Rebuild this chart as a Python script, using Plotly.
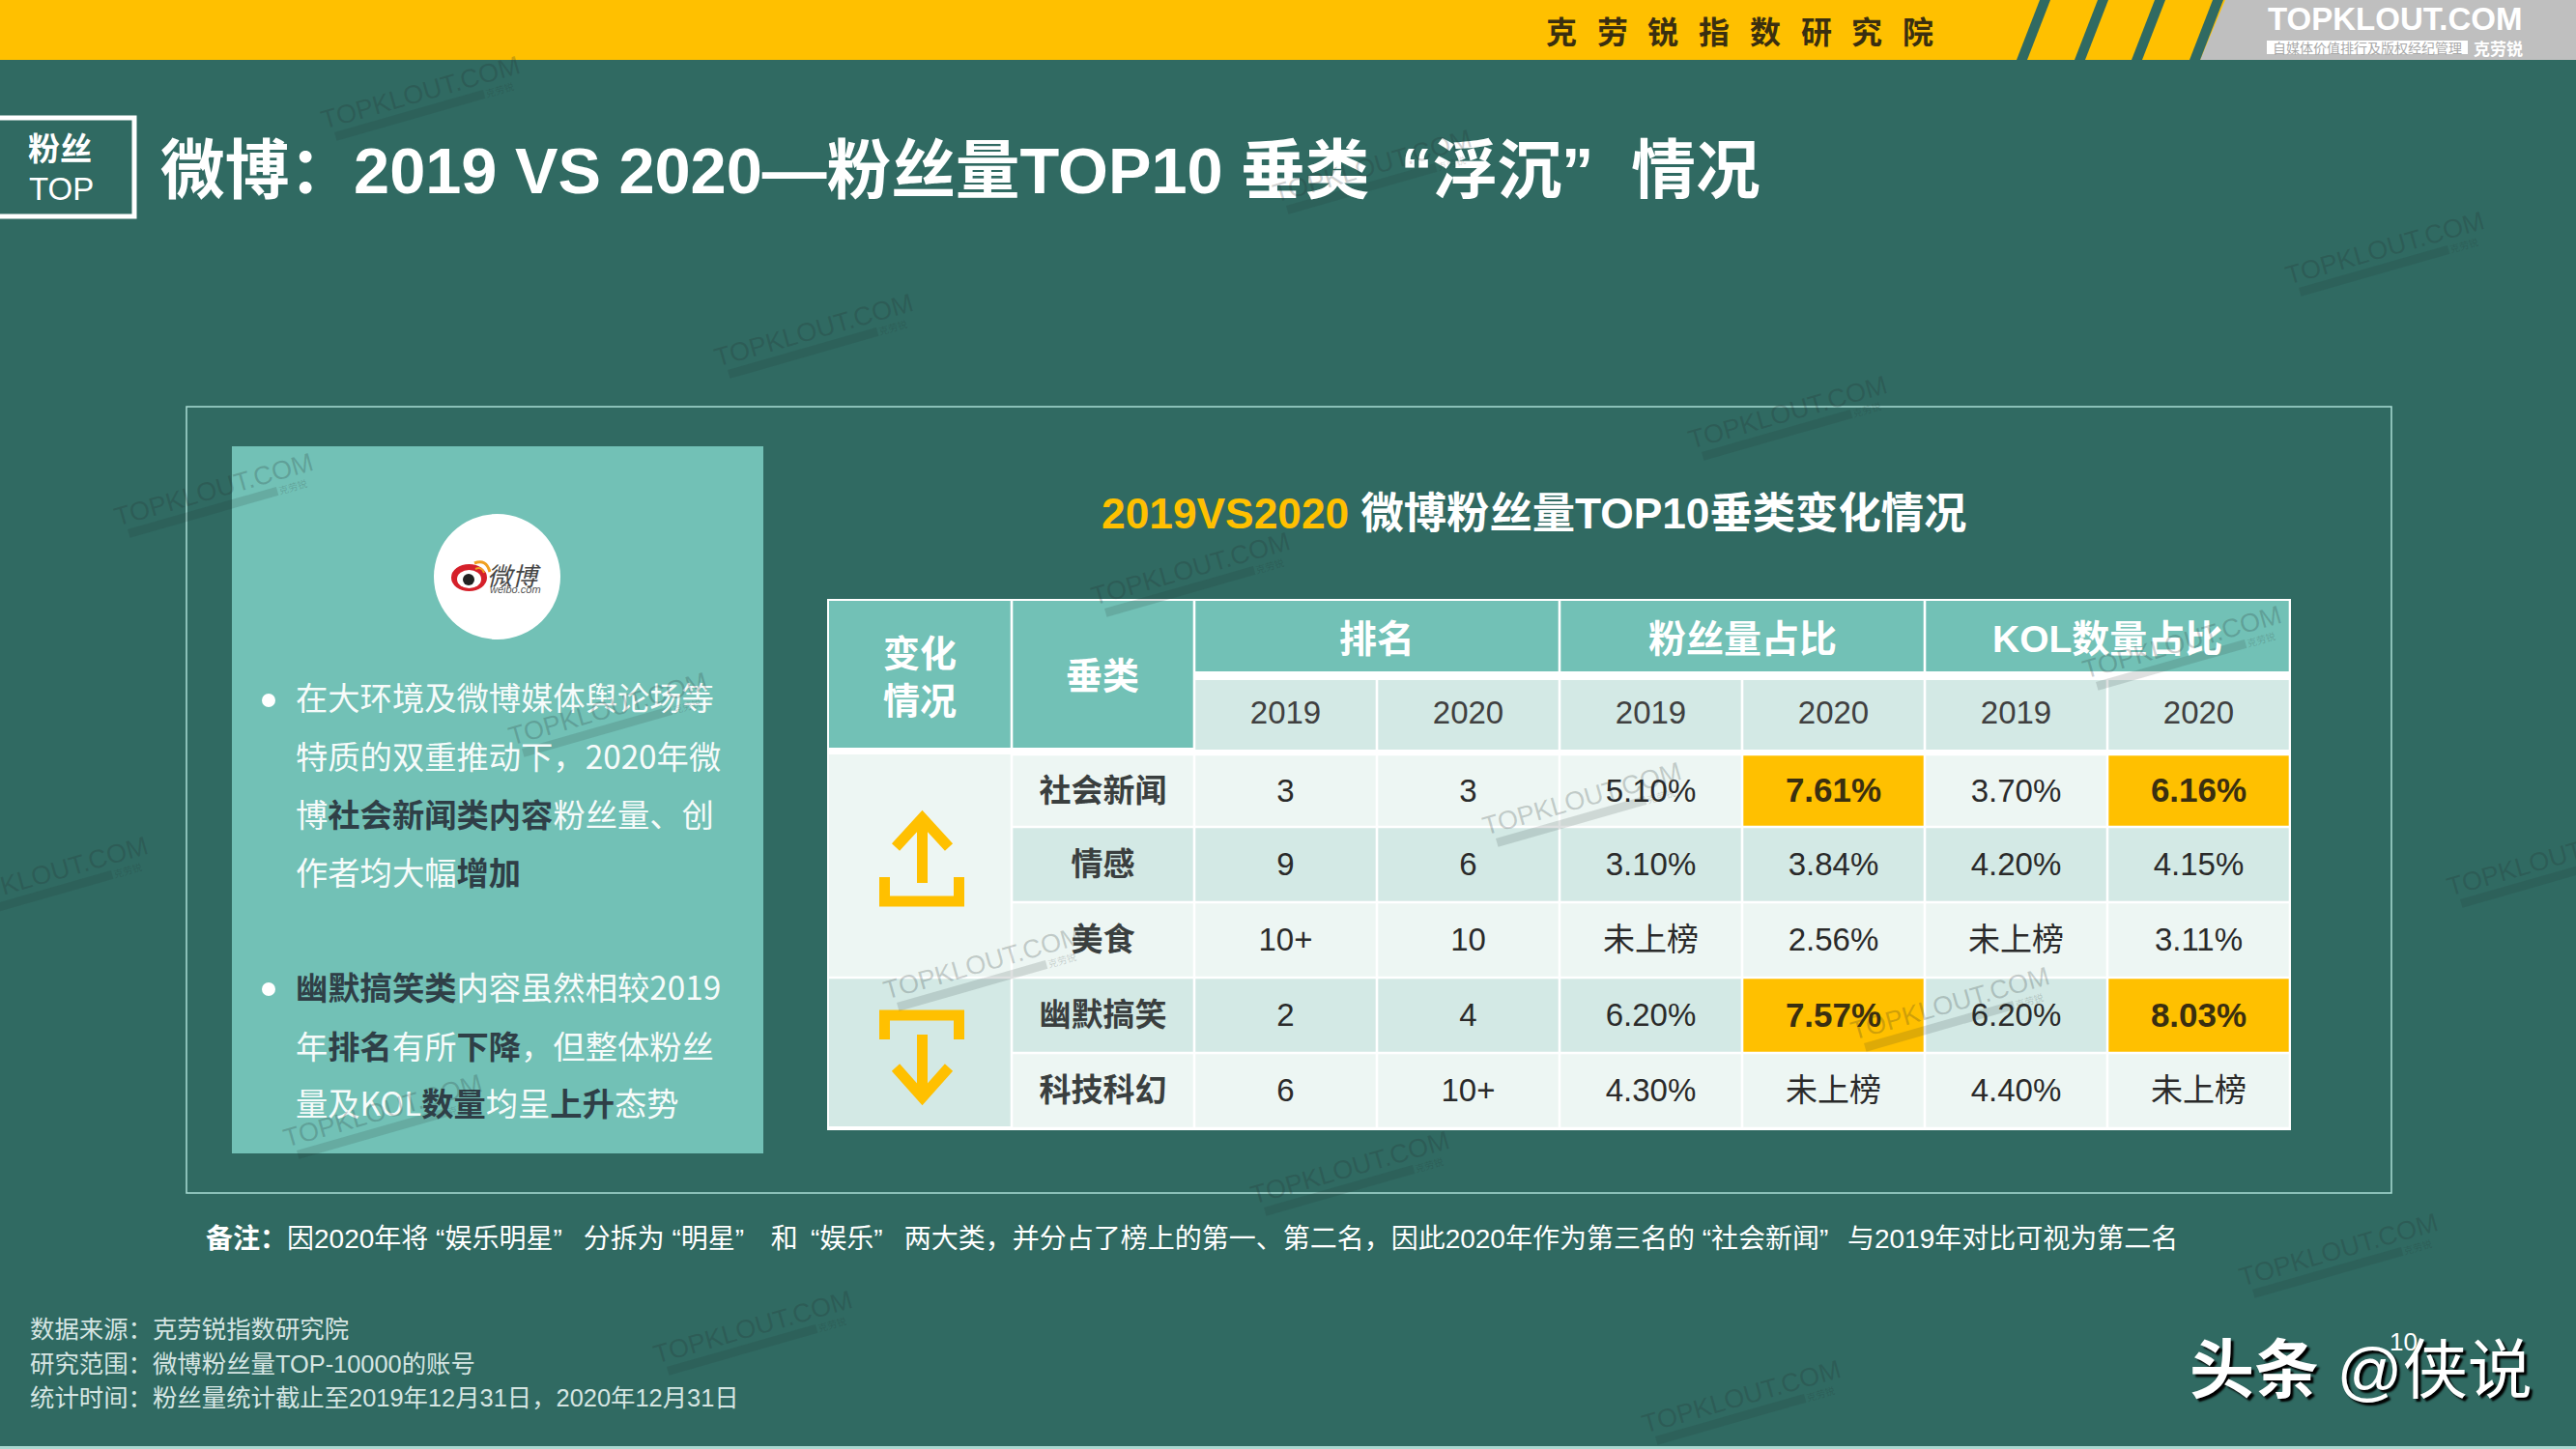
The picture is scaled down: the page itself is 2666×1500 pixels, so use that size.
import math
import plotly.graph_objects as go

# table data
change_labels = ["变化<br>情况", "垂类"]
group_labels = ["排名", "粉丝量占比", "KOL数量占比"]
year_labels = ["2019", "2020", "2019", "2020", "2019", "2020"]
categories = ["社会新闻", "情感", "美食", "幽默搞笑", "科技科幻"]
rank_2019 = ["3", "9", "10+", "2", "6"]
rank_2020 = ["3", "6", "10", "4", "10+"]
fans_2019 = ["5.10%", "3.10%", "未上榜", "6.20%", "4.30%"]
fans_2020 = ["7.61%", "3.84%", "2.56%", "7.57%", "未上榜"]
kol_2019 = ["3.70%", "4.20%", "未上榜", "6.20%", "4.40%"]
kol_2020 = ["6.16%", "4.15%", "3.11%", "8.03%", "未上榜"]
highlight_rows = [0, 3]

# slide text
QC = "”\u2002\u2009\u200a"  # closing quote sits wide in the original
top_org = "克劳锐指数研究院"
title = "微博：2019 VS 2020—粉丝量TOP10 垂类 \u2009“浮沉”\u2002\u200a情况"
subtitle_a = "2019VS2020"
subtitle_b = " 微博粉丝量TOP10垂类变化情况"
note = ("<b>备注：</b>因2020年将 “娱乐明星" + QC + "分拆为 “明星" + QC + "\u2009和\u2009 “娱乐" + QC
        + "两大类，并分占了榜上的第一、第二名，因此2020年作为第三名的 “社会新闻”\u2002\u2009与2019年对比可视为第二名")
footer = [
    "数据来源：克劳锐指数研究院",
    "研究范围：微博粉丝量TOP-10000的账号",
    "统计时间：粉丝量统计截止至2019年12月31日，2020年12月31日",
]
DARK = "#2F3F47"


def hi(s):
    return '<span style="color:%s"><b>%s</b></span>' % (DARK, s)


bullet_lines = [
    "在大环境及微博媒体舆论场等",
    "特质的双重推动下，2020年微",
    "博" + hi("社会新闻类内容") + "粉丝量、创",
    "作者均大幅" + hi("增加"),
    hi("幽默搞笑类") + "内容虽然相较2019",
    "年" + hi("排名") + "有所" + hi("下降") + "，但整体粉丝",
    "量及KOL" + hi("数量") + "均呈" + hi("上升") + "态势",
]

BG = "#306A62"
GOLD = "#FFC000"
TEAL = "#72C1B6"
LIGHT = "#EDF6F3"
MID = "#D3E9E5"
SANS = "Liberation Sans, Noto Sans CJK SC"
CJK = "Noto Sans CJK SC, Liberation Sans"

shapes = []
annots = []


def rect(x0, y0, x1, y1, fill, line=None, width=0, layer="below"):
    shapes.append(dict(type="rect", x0=x0, y0=y0, x1=x1, y1=y1, fillcolor=fill, layer=layer,
                       line=dict(color=line or fill, width=width)))


def path(d, fill=None, line=None, width=0):
    shapes.append(dict(type="path", path=d, fillcolor=fill or "rgba(0,0,0,0)", layer="below",
                       line=dict(color=line or "rgba(0,0,0,0)", width=width)))


def text(x, y, s, size, color="white", family=SANS, anchor="center", **kw):
    font = dict(size=size, color=color, family=family)
    font.update(kw.pop("font", {}))
    annots.append(dict(x=x, y=y, text=s, showarrow=False, xanchor=anchor, yanchor="middle",
                       font=font, **kw))


# top banner
rect(0, 0, 2666, 62, GOLD)
path("M 2277,62 L 2303,0 L 2666,0 L 2666,62 Z", "#BFBFBF")
for bx in [2087, 2147, 2206, 2266]:
    path("M %d,62 L %d,0 L %d,0 L %d,62 Z" % (bx, bx + 24, bx + 35, bx + 11), BG)
for i, ch in enumerate(top_org):
    text(1616 + i * 52.7, 31, "<b>" + ch + "</b>", 32, "#3A2F10", CJK)
text(2478, 19, "<b>TOPKLOUT.COM</b>", 33, "white", "Liberation Sans")
rect(2346, 42, 2554, 56, "white")
text(2450, 49, "自媒体价值排行及版权经纪管理", 14, "#A8A8A8", CJK)
text(2585, 49, "<b>克劳锐</b>", 17, "white", CJK)

# slide heading
rect(-6, 122, 139, 224, BG, "white", 5)
text(62, 154, "<b>粉丝</b>", 33)
text(63, 195, "TOP", 33, family="Liberation Sans")
text(164, 177, "<b>" + title + "</b>", 66.7, anchor="left")

# frame and left panel
rect(193, 421, 2475, 1235, BG, "#A9DDD5", 1.5)
rect(240, 462, 790, 1194, TEAL)
shapes.append(dict(type="circle", x0=449, y0=532, x1=580, y1=662, fillcolor="white", layer="below",
                   line=dict(width=0, color="white")))
# weibo mark
for x0, y0, x1, y1, c in [(467, 584, 504, 612, "#D5202A"), (473, 590, 498, 609, "white"), (479, 594, 491, 606, "#222222")]:
    shapes.append(dict(type="circle", x0=x0, y0=y0, x1=x1, y1=y1, fillcolor=c, layer="below",
                       line=dict(width=0, color=c)))
path("M 491,583 Q 503,578 507,592", line="#F0A020", width=3)
path("M 492,589 Q 499,586 501,593", line="#F0A020", width=2)
text(532, 594, "微博", 26, "#444444", CJK, font=dict(style="italic"))
text(533, 610, "weibo.com", 11, "#555555", "Liberation Sans", font=dict(style="italic"))

for by in [725, 1024]:
    shapes.append(dict(type="circle", x0=271, y0=by - 7, x1=285, y1=by + 7, fillcolor="white",
                       layer="below", line=dict(width=0, color="white")))
for y, s in zip([720, 781, 841, 901, 1020, 1081, 1140], bullet_lines):
    text(304, y, s, 33.3, "#F6FBFA", CJK, anchor="left")

# subtitle
text(1138, 531, '<b><span style="color:%s">%s</span>%s</b>' % (GOLD, subtitle_a, subtitle_b), 44.3, anchor="left")

# table
col_edges = [856, 1047, 1236, 1425, 1614, 1803, 1992, 2181, 2370]
row_edges = [781, 856, 934, 1012, 1090, 1168]
G = 1.3
rect(856, 620, 2371, 1170, "white")
rect(col_edges[0] + 2, 622, col_edges[1] - G, 774, TEAL)
rect(col_edges[1] + G, 622, col_edges[2] - G, 774, TEAL)
for g in range(3):
    rect(col_edges[2 + g * 2] + G, 622, col_edges[4 + g * 2] - G, 695, TEAL)
    text((col_edges[2 + g * 2] + col_edges[4 + g * 2]) / 2, 661, "<b>" + group_labels[g] + "</b>", 39)
for c in range(6):
    rect(col_edges[c + 2] + G, 704, col_edges[c + 3] - G, 776, MID)
rect(col_edges[0] + 2, row_edges[0], col_edges[1] - G, row_edges[3] - G, LIGHT)
rect(col_edges[0] + 2, row_edges[3] + G, col_edges[1] - G, row_edges[5] - 2, MID)
for r in range(5):
    for c in range(1, 8):
        fill = MID if r % 2 == 1 else LIGHT
        if r in highlight_rows and c in (5, 7):
            fill = GOLD
        rect(col_edges[c] + G, row_edges[r] + G, col_edges[c + 1] - G, row_edges[r + 1] - G, fill)

text(952, 701, "<b>" + change_labels[0] + "</b>", 38)
text(1141, 700, "<b>" + change_labels[1] + "</b>", 38)

col_mid = [(col_edges[i] + col_edges[i + 1]) / 2 for i in range(len(col_edges) - 1)]
row_mid = [(row_edges[i] + row_edges[i + 1]) / 2 + 3 for i in range(5)]
columns = [rank_2019, rank_2020, fans_2019, fans_2020, kol_2019, kol_2020]

# up and down icons
path("M 915.5,908 L 915.5,933 L 992.5,933 L 992.5,908", line=GOLD, width=11)
path("M 954.5,914 L 954.5,852", line=GOLD, width=11)
path("M 927,877 L 954.5,847 L 982,877", line=GOLD, width=11)
path("M 915.5,1076 L 915.5,1051 L 992.5,1051 L 992.5,1076", line=GOLD, width=11)
path("M 954.5,1071 L 954.5,1133", line=GOLD, width=11)
path("M 927,1105 L 954.5,1136 L 982,1105", line=GOLD, width=11)

# lower text
text(211, 1282, note, 28, anchor="left")
for y, s in zip([1376, 1412, 1447], footer):
    text(29, y, s, 25.4, "#D5E5E2", anchor="left")
rect(0, 1497, 2666, 1500, "#A9D8D0")
text(2487, 1389, "10", 26, "white", "Liberation Sans")
text(2264, 1418, "<b>头条</b> @侠说", 67, "white", anchor="left",
     font=dict(shadow="3px 3px 2px #000000"))

# watermarks
wm_pos = [(435, 102), (842, 348), (221, 513), (1232, 595), (1850, 433), (2468, 263), (629, 740),
          (1637, 833), (2258, 671), (50, 910), (1017, 1003), (2018, 1045), (2635, 896), (396, 1156),
          (1397, 1215), (2420, 1300), (779, 1380), (1802, 1452), (1420, 178)]
ang = math.radians(16)
for cx, cy in wm_pos:
    text(cx, cy - 6, "TOPKLOUT.COM", 27, "rgba(35,45,45,0.22)", "Liberation Sans", textangle=-16)
    bx = cx - 6
    by = cy + 16
    shapes.append(dict(type="line", x0=bx - 85 * math.cos(ang), y0=by + 85 * math.sin(ang),
                       x1=bx + 75 * math.cos(ang), y1=by - 75 * math.sin(ang), layer="above",
                       line=dict(color="rgba(35,45,45,0.15)", width=9)))
    text(bx + 92 * math.cos(ang), by - 92 * math.sin(ang), "克劳锐", 10, "rgba(35,45,45,0.20)", CJK, textangle=-16)

# table text goes in as traces, so the cells are read from the arrays
xs, ys, labels = [], [], []
bx_, by_, blabels = [], [], []
for c, col in enumerate(columns):
    for r, v in enumerate(col):
        if r in highlight_rows and c in (3, 5):
            bx_.append(col_mid[c + 2]); by_.append(row_mid[r]); blabels.append(v)
        else:
            xs.append(col_mid[c + 2]); ys.append(row_mid[r]); labels.append(v)

fig = go.Figure()
fig.add_trace(go.Scatter(x=col_mid[2:], y=[741] * 6, text=year_labels, mode="text",
                         textfont=dict(size=33, color="#404040", family=SANS), hoverinfo="skip"))
fig.add_trace(go.Scatter(x=[col_mid[1]] * 5, y=row_mid, text=categories, mode="text",
                         textfont=dict(size=33, color="#3A3F3F", family=CJK, weight=700), hoverinfo="skip"))
fig.add_trace(go.Scatter(x=xs, y=ys, text=labels, mode="text",
                         textfont=dict(size=33, color="#2A2A2A", family=SANS), hoverinfo="skip"))
fig.add_trace(go.Scatter(x=bx_, y=by_, text=blabels, mode="text",
                         textfont=dict(size=35, color="#3A2F10", family=SANS, weight=700), hoverinfo="skip"))

fig.update_layout(
    width=2666, height=1500, margin=dict(l=0, r=0, t=0, b=0),
    paper_bgcolor=BG, plot_bgcolor=BG, showlegend=False,
    xaxis=dict(range=[0, 2666], visible=False, fixedrange=True),
    yaxis=dict(range=[1500, 0], visible=False, fixedrange=True),
    shapes=shapes, annotations=annots,
)
fig.write_html("out.html", config=dict(displayModeBar=False),
               post_script="document.body.style.margin='0';")
